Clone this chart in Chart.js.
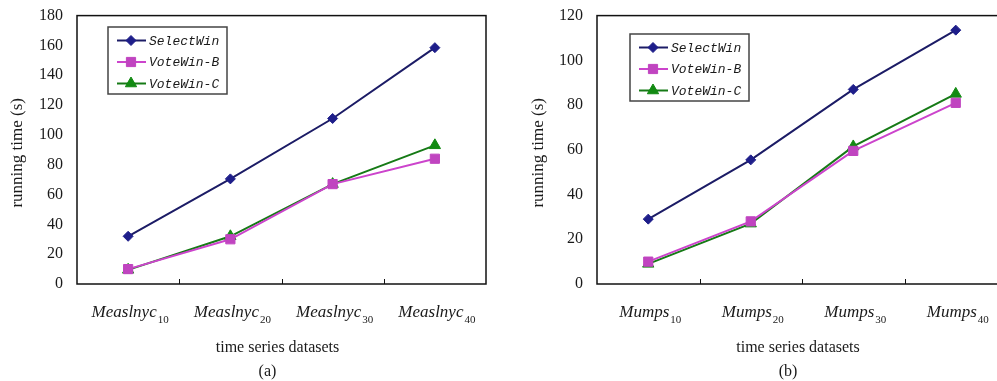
<!DOCTYPE html>
<html>
<head>
<meta charset="utf-8">
<script src="https://cdn.jsdelivr.net/npm/chart.js@4.4.0/dist/chart.umd.min.js"></script>
<style>
  html, body { margin: 0; padding: 0; background: #fff; overflow: hidden; width: 997px; height: 381px; }
  .box { position: absolute; top: 0; height: 381px; }
  #boxA { left: 0; width: 500px; }
  #boxB { left: 500px; width: 520px; }
</style>
</head>
<body>
<div class="box" id="boxA"><canvas id="chartA"></canvas></div>
<div class="box" id="boxB"><canvas id="chartB"></canvas></div>
<script>
// data
const seriesNames = ['SelectWin', 'VoteWin-B', 'VoteWin-C'];
const sizes = ['10', '20', '30', '40'];
const measName = 'Measlnyc';
const mumpsName = 'Mumps';

const measSelectWin = [32, 70.5, 111, 158.5];
const measVoteWinB = [10, 30, 67, 84];
const measVoteWinC = [9.5, 32, 67, 93];

const mumpsSelectWin = [29, 55.5, 87, 113.5];
const mumpsVoteWinB = [10, 28, 59.5, 81];
const mumpsVoteWinC = [9, 27, 61.5, 85];

const measTicks = [0, 20, 40, 60, 80, 100, 120, 140, 160, 180];
const mumpsTicks = [0, 20, 40, 60, 80, 100, 120];

const colors = {
  line: ['#1c1c66', '#cc44cc', '#167a16'],
  point: ['#1e1e8a', '#c044c0', '#128a12']
};
const styles = ['rectRot', 'rect', 'triangle'];
const radii = [5, 6.5, 6.5];

const serif = '"Liberation Serif", "Times New Roman", serif';
const ink = '#1a1a1a';

const decor = {
  id: 'decor',
  beforeDatasetsDraw(chart, args, o) {
    const { ctx, chartArea: a } = chart;
    const x = chart.scales.x;
    ctx.save();
    ctx.strokeStyle = '#111';
    ctx.lineWidth = 1.5;
    ctx.strokeRect(a.left, a.top, a.right - a.left, a.bottom - a.top);
    // small inward ticks between categories
    ctx.lineWidth = 1;
    for (let i = 0; i < sizes.length - 1; i++) {
      const px = Math.round((x.getPixelForValue(i) + x.getPixelForValue(i + 1)) / 2) + 0.5;
      ctx.beginPath();
      ctx.moveTo(px, a.bottom);
      ctx.lineTo(px, a.bottom - 5);
      ctx.stroke();
    }
    ctx.restore();
  },
  afterDraw(chart, args, o) {
    const { ctx, chartArea: a } = chart;
    const x = chart.scales.x;
    ctx.save();
    ctx.fillStyle = ink;

    // category labels with subscripts
    sizes.forEach((s, i) => {
      const cx = x.getPixelForValue(i);
      ctx.font = 'italic 17px ' + serif;
      const wb = ctx.measureText(o.base).width;
      ctx.font = '11px ' + serif;
      const ws = ctx.measureText(s).width;
      const sx = cx - (wb + ws + 1) / 2 + 2;
      ctx.textAlign = 'left';
      ctx.textBaseline = 'alphabetic';
      ctx.font = 'italic 17px ' + serif;
      ctx.fillText(o.base, sx, 317);
      ctx.font = '11px ' + serif;
      ctx.fillText(s, sx + wb + 1, 323);
    });

    // axis titles and caption
    const mid = (a.left + a.right) / 2 - 4;
    ctx.textAlign = 'center';
    ctx.font = '16px ' + serif;
    ctx.fillText('time series datasets', mid, 352);
    ctx.fillText(o.caption, mid - 10, 376);

    ctx.save();
    ctx.translate(o.yTitleX, (a.top + a.bottom) / 2 + 3);
    ctx.rotate(-Math.PI / 2);
    ctx.font = '17px ' + serif;
    ctx.textBaseline = 'middle';
    ctx.fillText('running time (s)', 0, 0);
    ctx.restore();

    // legend box
    const lx = o.legend.x, ly = o.legend.y;
    ctx.fillStyle = '#fff';
    ctx.fillRect(lx, ly, o.legend.w, o.legend.h);
    ctx.strokeStyle = '#444';
    ctx.lineWidth = 1.5;
    ctx.strokeRect(lx, ly, o.legend.w, o.legend.h);
    chart.data.datasets.forEach((ds, i) => {
      const ry = ly + 13.5 + i * 21.5;
      ctx.strokeStyle = ds.borderColor;
      ctx.lineWidth = 2;
      ctx.beginPath();
      ctx.moveTo(lx + 9, ry);
      ctx.lineTo(lx + 38, ry);
      ctx.stroke();
      ctx.fillStyle = ds.pointBackgroundColor;
      ctx.strokeStyle = ds.pointBorderColor;
      ctx.lineWidth = 1;
      Chart.helpers.drawPoint(ctx, { pointStyle: ds.pointStyle, radius: ds.pointRadius, rotation: 0, borderWidth: 1 }, lx + 23, ry);
      ctx.fillStyle = ink;
      ctx.font = 'italic 13px "Liberation Mono", "DejaVu Sans Mono", monospace';
      ctx.textAlign = 'left';
      ctx.textBaseline = 'middle';
      ctx.fillText(ds.label, lx + 41, ry + 1);
    });
    ctx.restore();
  }
};

function makeChart(id, base, series, ticks, yWidth, rightPad, opts) {
  return new Chart(document.getElementById(id), {
    type: 'line',
    data: {
      labels: sizes.map(s => base + s),
      datasets: series.map((vals, i) => ({
        label: seriesNames[i],
        data: vals,
        borderColor: colors.line[i],
        borderWidth: 2,
        pointStyle: styles[i],
        pointRadius: radii[i],
        pointBackgroundColor: colors.point[i],
        pointBorderColor: colors.point[i],
        pointBorderWidth: 1,
        tension: 0
      }))
    },
    options: {
      responsive: true,
      maintainAspectRatio: false,
      animation: false,
      layout: { padding: { top: 15, right: rightPad, left: 0, bottom: 0 } },
      plugins: {
        legend: { display: false },
        tooltip: { enabled: false },
        decor: Object.assign({ base: base }, opts)
      },
      scales: {
        x: {
          offset: true,
          grid: { display: false },
          border: { display: false },
          ticks: { display: false },
          afterFit(scale) { scale.height = 97; }
        },
        y: {
          min: ticks[0],
          max: ticks[ticks.length - 1],
          afterBuildTicks(scale) { scale.ticks = ticks.map(v => ({ value: v })); },
          grid: { display: false },
          border: { display: false },
          ticks: { font: { family: serif, size: 16 }, color: ink, padding: 6 },
          afterFit(scale) { scale.width = yWidth; }
        }
      }
    },
    plugins: [decor]
  });
}

makeChart('chartA', measName, [measSelectWin, measVoteWinB, measVoteWinC], measTicks, 77, 14, {
  caption: '(a)', yTitleX: 18,
  legend: { x: 108, y: 27, w: 119, h: 67 }
});

makeChart('chartB', mumpsName, [mumpsSelectWin, mumpsVoteWinB, mumpsVoteWinC], mumpsTicks, 97, 13, {
  caption: '(b)', yTitleX: 39,
  legend: { x: 130, y: 34, w: 119, h: 67 }
});
</script>
</body>
</html>
